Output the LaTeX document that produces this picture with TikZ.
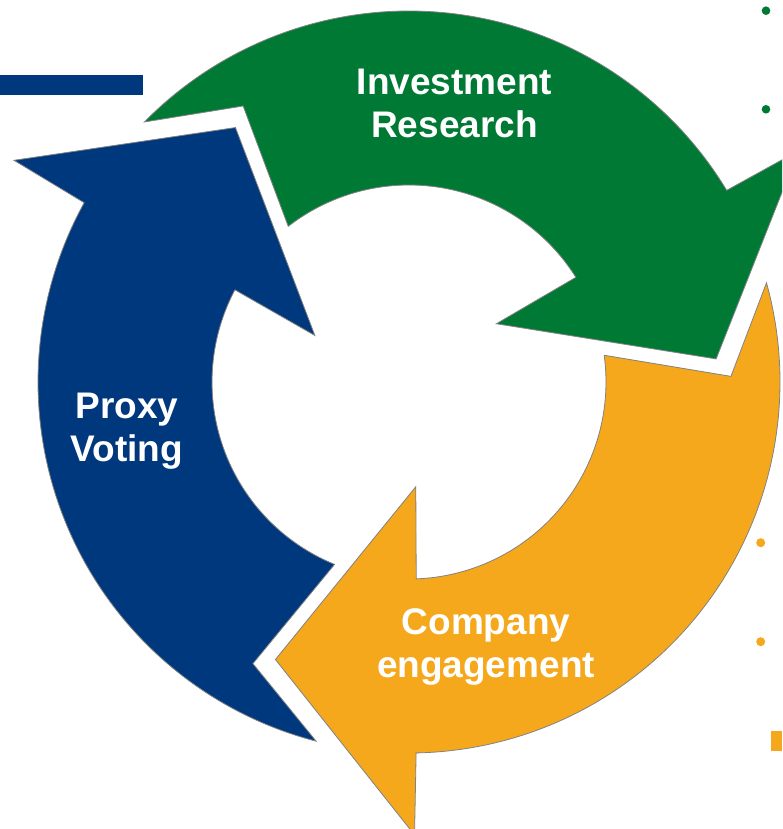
\documentclass[tikz,border=0pt]{standalone}
\usepackage{fontspec}
\setmainfont{Liberation Sans}
\definecolor{cgreen}{RGB}{0,121,52}
\definecolor{cblue}{RGB}{0,56,125}
\definecolor{corange}{RGB}{246,168,28}
\definecolor{cedge}{RGB}{130,130,130}
\tikzset{
  arrowshape/.style={draw=cedge, line width=0.8pt, line join=miter},
  lbl/.style={text=white, font=\fontsize{37}{43}\selectfont\bfseries, anchor=base, inner sep=0pt},
}
\newcommand{\cyclearrow}[2]{%
  \path[arrowshape, fill=#1]
    ({255.5+#2}:371) arc[start angle={255.5+#2}, end angle={151.1+#2}, radius=371pt]
    -- ({150.7+#2}:453) -- ({124.3+#2}:308) -- ({153.7+#2}:105)
    -- ({152.1+#2}:197) arc[start angle={152.1+#2}, end angle={247.8+#2}, radius=197pt]
    -- ({241+#2}:322) -- cycle;}
\begin{document}
\begin{tikzpicture}[x=1pt,y=1pt]
\useasboundingbox (-409,-447) rectangle (373,382);
\clip (-409,-447) rectangle (373,382);
\coordinate (C) at (0,0);
% arrows
\cyclearrow{cblue}{0}
\cyclearrow{cgreen}{-120}
\cyclearrow{corange}{-240}
% labels
\node[lbl] (inv) at (45.5,287) {Investment};
\node[lbl] (res) at (45.5,244) {Research};
\node[lbl] (prx) at (-282,-37) {Proxy};
\node[lbl] (vot) at (-282,-80) {Voting};
\node[lbl] (cmp) at (77,-252) {Company};
\node[lbl] (eng) at (77,-295) {engagement};
% decorations
\fill[cblue] (-409,287) rectangle (-266,307);
\fill[cgreen] (357,371.3) circle[radius=4.3pt];
\fill[cgreen] (357,272.7) circle[radius=4.3pt];
\fill[corange] (351.7,-160.7) circle[radius=4.5pt];
\fill[corange] (351.7,-259.7) circle[radius=4.5pt];
\fill[corange] (362,-349) rectangle (373,-369);
\end{tikzpicture}
\end{document}
